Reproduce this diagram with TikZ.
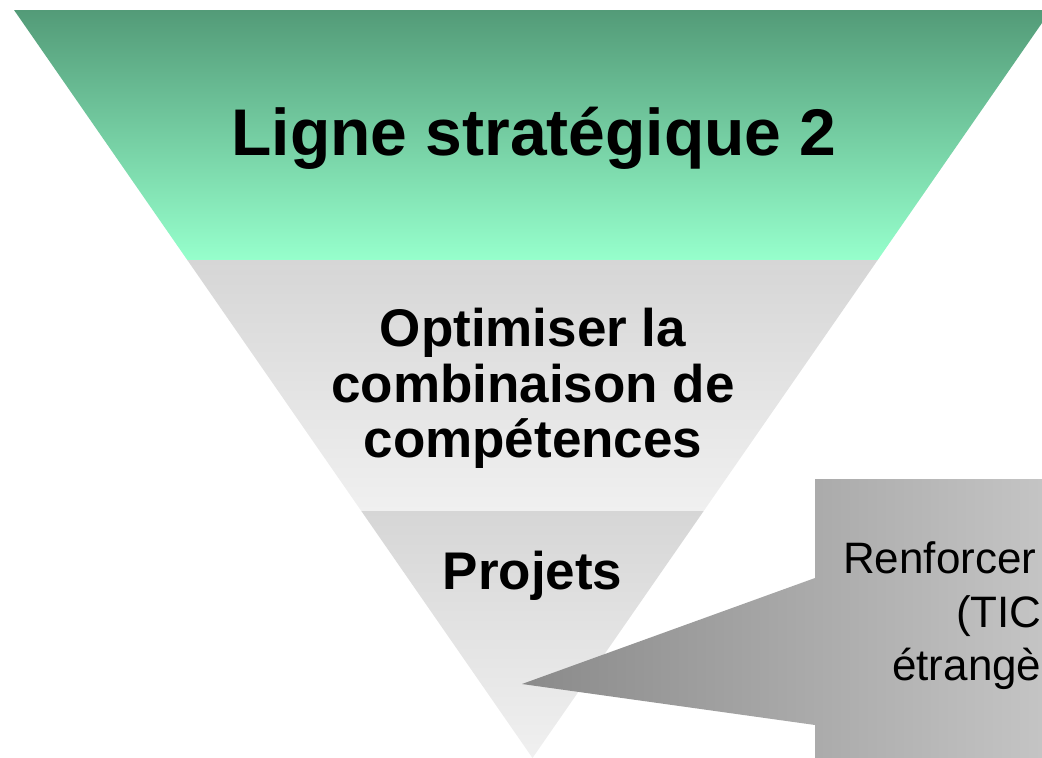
\documentclass[tikz,border=0pt]{standalone}
\usepackage{fontspec}
\setmainfont{Liberation Sans}
\begin{document}
\begin{tikzpicture}[x=1pt,y=-1pt,
  titletxt/.style={inner sep=0pt,font=\fontsize{66}{70}\selectfont\bfseries},
  bandtxt/.style={inner sep=0pt,align=center,font=\fontsize{53}{55.5}\selectfont\bfseries},
  calltxt/.style={inner sep=0pt,font=\fontsize{44}{50}\selectfont}]
\useasboundingbox (0,0) rectangle (1042,758);
\clip (0,0) rectangle (1042,758);
% top band (green)
\shade[top color={rgb,255:red,83;green,155;blue,120},bottom color={rgb,255:red,150;green,255;blue,204}]
  (14,10) -- (1051,10) -- (877.7,260) -- (187.3,260) -- cycle;
% middle band
\shade[top color={rgb,255:red,214;green,214;blue,214},bottom color={rgb,255:red,240;green,240;blue,240}]
  (187.3,260) -- (877.7,260) -- (703.7,511) -- (361.3,511) -- cycle;
% bottom band
\shade[top color={rgb,255:red,214;green,214;blue,214},bottom color={rgb,255:red,240;green,240;blue,240}]
  (361.3,511) -- (703.7,511) -- (532.5,758) -- cycle;
% callout
\shade[left color={rgb,255:red,138;green,138;blue,138},right color={rgb,255:red,198;green,198;blue,198}]
  (522,684) -- (815,578) -- (815,479) -- (1060,479) -- (1060,770) -- (815,770) -- (815,725) -- cycle;
% texts
\node[titletxt,anchor=base] (title) at (534,155) {Ligne stratégique 2};
\node[bandtxt] (comp) at (533,388.5) {Optimiser la\\combinaison de\\compétences};
\node[bandtxt,anchor=base] (proj) at (532.5,589) {Projets};
\node[calltxt,anchor=base west] (c1) at (843,573) {Renforcer};
\node[calltxt,anchor=base west] (c2) at (956,627) {(TIC};
\node[calltxt,anchor=base west] (c3) at (892,680) {étrangè};
\end{tikzpicture}
\end{document}
